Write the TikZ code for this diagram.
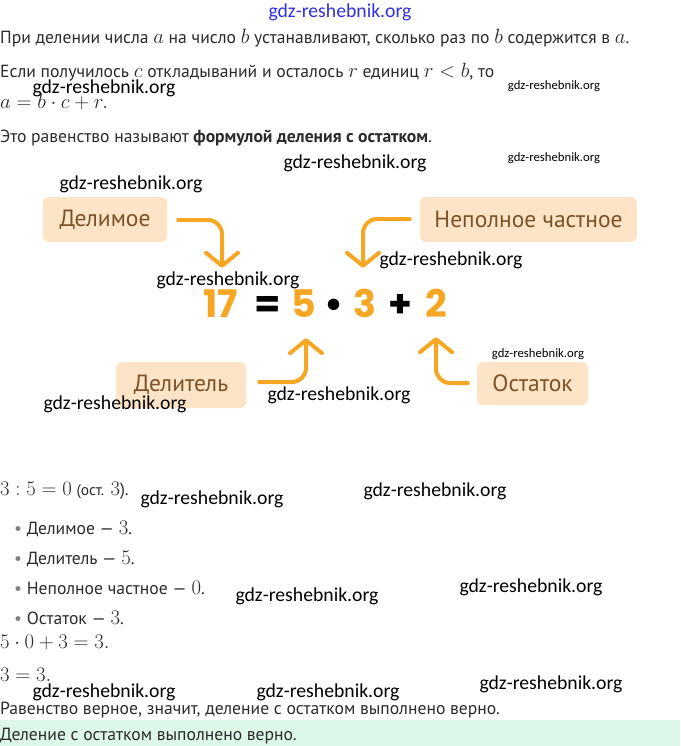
\documentclass[tikz,border=0pt]{standalone}
\usepackage{amsmath}
\usepackage{fontspec}
\setmainfont{PT Sans}
\newfontfamily\digitfont{Poppins}
\newfontfamily\markfont{Carlito}
\DeclareMathSizes{17.6}{20.74}{14.4}{12}
\usetikzlibrary{arrows.meta}
\usetikzlibrary{positioning}
\definecolor{calloutorange}{HTML}{F5A623}
\definecolor{boxfill}{HTML}{FDE4C6}
\definecolor{boxtext}{HTML}{7B5228}
\definecolor{bodytext}{HTML}{2B2B2B}
\definecolor{okgreen}{HTML}{DDF7E8}
\definecolor{wmblue}{HTML}{3030E0}
\tikzset{
    line/.style={anchor=base west,inner sep=0pt,text=bodytext,font=\fontsize{17.6}{21}\selectfont},
    termbox/.style={fill=boxfill,rounded corners=6pt,text=boxtext,inner sep=0pt,
        font=\fontsize{23.5}{26}\selectfont},
    digit/.style={inner sep=0pt,anchor=base,text height=27pt,text depth=0pt,
        font=\digitfont\bfseries\fontsize{38}{40}\selectfont},
    callout/.style={draw=calloutorange,line width=4pt,rounded corners=14pt,line cap=round,
        -{Straight Barb[length=13pt,width=32pt,line cap=round,line join=round]}},
    wmark/.style={inner sep=0pt,text=black,font=\markfont\fontsize{19.7}{20}\selectfont},
    smallmark/.style={inner sep=0pt,text=black,font=\markfont\fontsize{12.7}{13}\selectfont},
}

\begin{document}
\begin{tikzpicture}[x=1pt,y=-1pt]
    \useasboundingbox (0,0) rectangle (680,746);
    \fill[okgreen] (0,720) rectangle (680,746);

    % text above the scheme
    \node[wmark,text=wmblue] (top) at (340,12) {gdz-reshebnik.org};
    \node[line] (l1) at (0,44) {При делении числа $a$ на число $b$ устанавливают, сколько раз по $b$ содержится в $a$.};
    \node[line] (l2) at (0,78) {Если получилось $c$ откладываний и осталось $r$ единиц $r<b$, то};
    \node[line] (l3) at (0,109) {$a=b\cdot c+r.$};
    \node[line] (l4) at (0,143) {Это равенство называют \textbf{формулой деления с остатком}.};

    % scheme
    \node[termbox,minimum width=124pt,minimum height=45pt] (dividend) at (105,219.5) {Делимое};
    \node[termbox,minimum width=217pt,minimum height=45pt] (quotient) at (528.5,219.5) {Неполное частное};
    \node[termbox,minimum width=130pt,minimum height=46pt] (divisor) at (181,385) {Делитель};
    \node[termbox,minimum width=111pt,minimum height=43pt] (remainder) at (532.5,383.5) {Остаток};

    \node[digit,text=calloutorange] (n17) at (221,317) {17};
    \node[digit] (eq) at (268,317) {=};
    \node[digit,text=calloutorange] (n5) at (304,317) {5};
    \node[digit] (dot) at (334,317) {•};
    \node[digit,text=calloutorange] (n3) at (365,317) {3};
    \node[digit] (plus) at (400,317) {+};
    \node[digit,text=calloutorange] (n2) at (436,317) {2};

    \draw[callout] ([xshift=11pt,yshift=-0.5pt]dividend.east) -| ([xshift=1pt,yshift=22pt]n17.north);
    \draw[callout] ([xshift=-10pt,yshift=0.5pt]quotient.west) -| ([xshift=-2pt,yshift=22pt]n3.north);
    \draw[callout] ([xshift=13pt,yshift=3pt]divisor.east) -| ([xshift=2pt,yshift=-21pt]n5.south);
    \draw[callout] ([xshift=-9pt,yshift=0.5pt]remainder.west) -| ([yshift=-20pt]n2.south);

    % example below
    \node[line] (e1) at (0,495) {$3:5=0$ {\fontsize{15.5}{18}\selectfont(ост.} $3$).};
    \node[line] (b1) at (14,534) {{\color{gray}•} Делимое — $3$.};
    \node[line] (b2) at (14,564) {{\color{gray}•} Делитель — $5$.};
    \node[line] (b3) at (14,594) {{\color{gray}•} Неполное частное — $0$.};
    \node[line] (b4) at (14,624) {{\color{gray}•} Остаток — $3$.};
    \node[line] (e2) at (0,648) {$5\cdot 0+3=3.$};
    \node[line] (e3) at (0,681) {$3=3.$};
    \node[line] (e4) at (0,714) {Равенство верное, значит, деление с остатком выполнено верно.};
    \node[line] (e5) at (0,740) {Деление с остатком выполнено верно.};

    % watermarks
    \foreach \x/\y in {104/88,355/163,131/184,451/260,228/280,115/404,339/395,
        212/499,435/491,307/596,531/587,104/692,328/692,551/684}
        \node[wmark] at (\x,\y) {gdz-reshebnik.org};
    \foreach \x/\y in {554/86,554/158,538/354}
        \node[smallmark] at (\x,\y) {gdz-reshebnik.org};
\end{tikzpicture}
\end{document}
